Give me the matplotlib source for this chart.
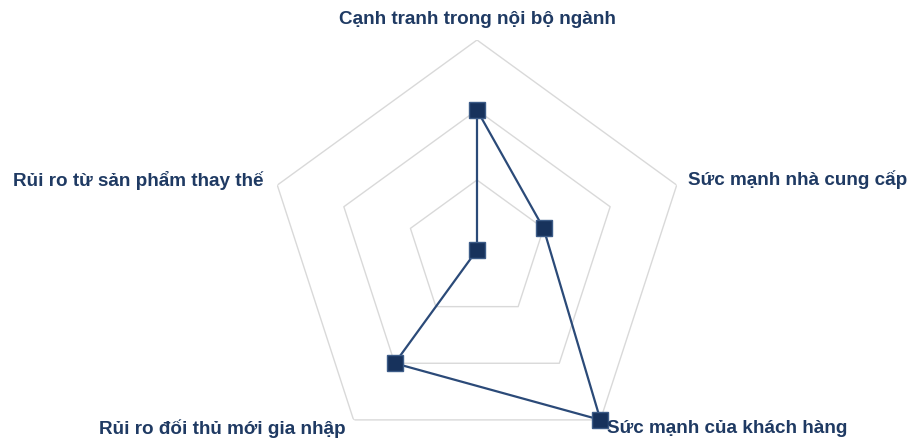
import numpy as np
import matplotlib.pyplot as plt

# five forces scores (0-3)
categories = ['Cạnh tranh trong nội bộ ngành', 'Sức mạnh nhà cung cấp',
              'Sức mạnh của khách hàng', 'Rủi ro đối thủ mới gia nhập',
              'Rủi ro từ sản phẩm thay thế']
values = [2, 1, 3, 2, 0]
rings = [1, 2, 3]

# label placement: (dx px, dy px, ha, va)
label_pos = [(0, 21, 'center', 'center'),
             (11, 5, 'left', 'center'),
             (7, -9, 'left', 'center'),
             (-8, -9, 'right', 'center'),
             (-14, 5, 'right', 'center')]

navy = '#1f3a63'

fig = plt.figure(figsize=(9.11, 4.41), dpi=100)
ax = fig.add_axes([267 / 911, -19 / 441, 420 / 911, 420 / 441], projection='polar')
ax.set_theta_offset(np.pi / 2)
ax.set_theta_direction(-1)
ax.set_ylim(0, 3)
ax.grid(False)
ax.spines['polar'].set_visible(False)
ax.set_xticks([])
ax.set_yticks([])
ax.patch.set_visible(False)

angles = np.linspace(0, 2 * np.pi, len(categories), endpoint=False)
closed = np.append(angles, angles[0])

# pentagon grid
for r in rings:
    ax.plot(closed, [r] * len(closed), color='#d9d9d9', lw=1, zorder=1)

ax.plot(closed, values + values[:1], color='#2b4a78', lw=1.6, zorder=2)
ax.plot(angles, values, ls='none', marker='s', ms=11, mfc='#17325c',
        mec='#3d5c88', mew=1, zorder=3, clip_on=False)

px = 72 / 100
for ang, lab, (dx, dy, ha, va) in zip(angles, categories, label_pos):
    ax.annotate(lab, xy=(ang, rings[-1]), xytext=(dx * px, dy * px),
                textcoords='offset points', ha=ha, va=va,
                fontsize=13.6, fontweight='bold', color=navy,
                family=['Liberation Sans', 'DejaVu Sans'], annotation_clip=False)

fig.savefig('out.png', dpi=100)
